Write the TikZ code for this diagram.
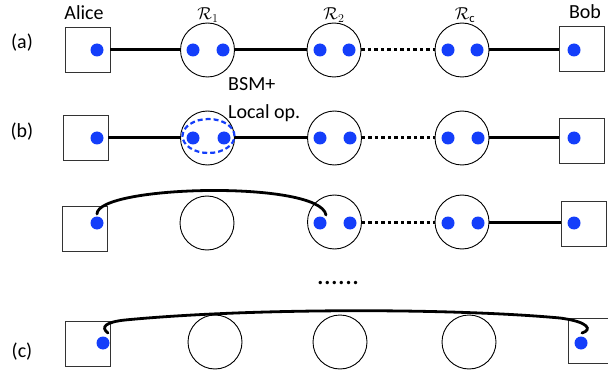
\documentclass[tikz,border=0pt]{standalone}
\usepackage{fontspec}
\setmainfont{Carlito}
\usetikzlibrary{shapes.geometric}
\begin{document}
\begin{tikzpicture}[x=1pt,y=-1pt,
  lbl/.style={font=\fontsize{20}{24}\selectfont, inner sep=0pt, anchor=base},
  rlbl/.style={font=\fontsize{18}{20}\selectfont, inner sep=0pt, anchor=base},
  box/.style={draw=black!80, line width=0.9pt, minimum size=45pt, inner sep=0pt},
  rep/.style={draw, circle, line width=0.9pt, minimum size=54pt, inner sep=0pt},
  qdot/.style={circle, fill=qblue, minimum size=13pt, inner sep=0pt},
  link/.style={line width=3pt},
  dlink/.style={line width=3pt, dash pattern=on 3.5pt off 3pt},
  arc/.style={line width=2.8pt, line cap=round}
]
\definecolor{qblue}{RGB}{20,62,250}
\useasboundingbox (0,0) rectangle (608,377);

% ---------- labels ----------
\node[lbl] (tAlice) at (84,20) {Alice};
\node[lbl] (tBob)   at (585,19) {Bob};
\node[rlbl] (tR1) at (208,20) {$\mathcal{R}_1$};
\node[rlbl] (tR2) at (334,20) {$\mathcal{R}_2$};
\node[rlbl] (tRc) at (465,20) {$\mathcal{R}_{\mathrm{c}}$};
\node[lbl] (ta) at (22,49) {(a)};
\node[lbl] (tb) at (22,138) {(b)};
\node[lbl] (tc) at (22,357) {(c)};
\node[lbl, anchor=base west] (tbsm) at (228,91) {BSM+};
\node[lbl, anchor=base west] (tloc) at (228,119) {Local op.};
\node[inner sep=0pt, anchor=base, font=\fontsize{28}{30}\selectfont] (tdots) at (338,284) {......};

% ---------- row (a) ----------
\node[box] (aA) at (87.5,50) {};
\node[rep] (aR1) at (207.5,50) {};
\node[rep] (aR2) at (334,50) {};
\node[rep] (aRc) at (462,50) {};
\node[box] (aB) at (581.5,48.5) {};
\node[qdot] (adA) at (97,50) {};
\node[qdot] (adR1a) at (193,50) {};
\node[qdot] (adR1b) at (223,50) {};
\node[qdot] (adR2a) at (320,50) {};
\node[qdot] (adR2b) at (349,50) {};
\node[qdot] (adRca) at (448,50) {};
\node[qdot] (adRcb) at (477,50) {};
\node[qdot] (adB) at (574,50) {};
\draw[link] (aA.east) -- (aR1.west);
\draw[link] (aR1.east) -- (aR2.west);
\draw[dlink] (aR2.east) -- (aRc.west);
\draw[link] (aRc.east) -- (aB.west |- aRc.east);

% ---------- row (b) ----------
\node[box] (bA) at (85.5,137.5) {};
\node[rep] (bR1) at (207.5,138) {};
\node[rep] (bR2) at (334.5,138) {};
\node[rep] (bRc) at (462,138) {};
\node[box] (bB) at (582,140.5) {};
\node[qdot] (bdA) at (97,138) {};
\node[qdot] (bdR1a) at (193,138) {};
\node[qdot] (bdR1b) at (224,138) {};
\node[qdot] (bdR2a) at (320,138) {};
\node[qdot] (bdR2b) at (350,138) {};
\node[qdot] (bdRca) at (448,138) {};
\node[qdot] (bdRcb) at (478,138) {};
\node[qdot] (bdB) at (574,138) {};
\node[draw=qblue, ellipse, line width=2.2pt, dash pattern=on 5pt off 3pt,
      minimum width=52pt, minimum height=34pt, inner sep=0pt] (bsm) at (208.5,136) {};
\draw[link] (bA.east |- bR1.west) -- (bR1.west);
\draw[link] (bR1.east) -- (bR2.west);
\draw[dlink] (bR2.east) -- (bRc.west);
\draw[link] (bRc.east) -- (bB.west |- bRc.east);

% ---------- intermediate row ----------
\node[box] (mA) at (84.5,228.5) {};
\node[rep] (mR1) at (207,223) {};
\node[rep] (mR2) at (334.5,222) {};
\node[rep] (mRc) at (462,222) {};
\node[box] (mB) at (583.5,223.5) {};
\node[qdot] (mdA) at (97,223) {};
\node[qdot] (mdR2a) at (320,223) {};
\node[qdot] (mdR2b) at (350,223) {};
\node[qdot] (mdRca) at (448,223) {};
\node[qdot] (mdRcb) at (478,223) {};
\node[qdot] (mdB) at (574,223) {};
\draw[dlink] (mR2.east) -- (mRc.west);
\draw[link] (mRc.east) -- (mB.west |- mRc.east);
\coordinate (mS) at (97,214);
\coordinate (mE) at (326,215);
\draw[arc] (mS) .. controls (97,185) and (320,180) .. (mE);

% ---------- row (c) ----------
\node[box] (cA) at (87.5,343.5) {};
\node[rep] (cR1) at (215,342) {};
\node[rep] (cR2) at (340,342) {};
\node[rep] (cRc) at (469,342) {};
\node[box] (cB) at (590.5,341) {};
\node[qdot] (cdA) at (103,343) {};
\node[qdot] (cdB) at (581,343) {};
\coordinate (cS) at (108,333);
\coordinate (cE) at (582,333);
\draw[arc] (cS) .. controls (100,327) and (106,322) .. (125,320)
           .. controls (250,308) and (450,308) .. (560,318)
           .. controls (590,322) and (592,330) .. (cE);
\end{tikzpicture}
\end{document}
